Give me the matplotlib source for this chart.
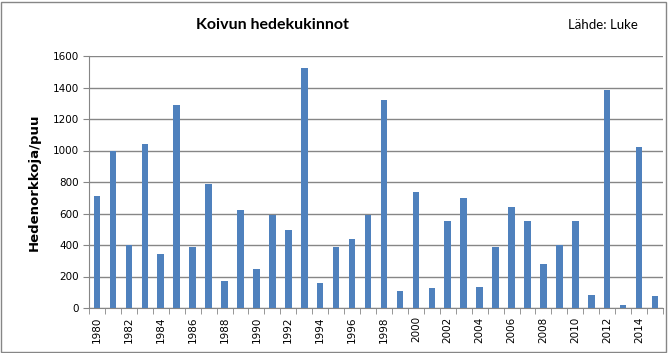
import matplotlib.pyplot as plt
import numpy as np
from matplotlib.patches import Rectangle

# Koivun hedekukinnot (birch male catkins), per tree
years = list(range(1980, 2016))
catkins = [710, 1000, 400, 1040, 340, 1290, 390, 790, 170, 620,
           245, 590, 495, 1525, 160, 385, 440, 590, 1320, 105,
           735, 130, 555, 700, 135, 385, 640, 555, 280, 400,
           550, 80, 1385, 20, 1020, 75]
yticks = [0, 200, 400, 600, 800, 1000, 1200, 1400, 1600]

bar_color = '#4F81BD'
grid_color = '#868686'

fig = plt.figure(figsize=(6.68, 3.53), dpi=100)
ax = fig.add_axes([89 / 668, 1 - 308 / 353, 574 / 668, 252 / 353])

x = np.arange(len(years))
ax.bar(x, catkins, width=0.41, color=bar_color, zorder=3)

ax.set_xlim(-0.5, len(years) - 0.5)
ax.set_ylim(0, 1600)
ax.set_yticks(yticks)
ax.set_yticklabels([str(v) for v in yticks], fontsize=7.5, family='DejaVu Sans')
ax.yaxis.grid(True, color=grid_color, linewidth=1, zorder=0)

# labels every other year, tick marks on category boundaries
ax.set_xticks(x[::2])
ax.set_xticklabels([str(y) for y in years[::2]], rotation=90, fontsize=7.5,
                   family='DejaVu Sans')
ax.tick_params(axis='x', which='major', length=0, pad=6)
ax.set_xticks(np.arange(-0.5, len(years)), minor=True)
ax.tick_params(axis='x', which='minor', length=4, color=grid_color, direction='out')
ax.tick_params(axis='y', length=4, color=grid_color, direction='out', pad=3)

for side in ['top', 'right']:
    ax.spines[side].set_visible(False)
for side in ['left', 'bottom']:
    ax.spines[side].set_color(grid_color)

ax.set_ylabel('Hedenorkkoja/puu', fontsize=9.5, fontweight='bold',
              family='DejaVu Sans', labelpad=9)

fig.text(272 / 668, 1 - 25 / 353, 'Koivun hedekukinnot', ha='center', va='center',
         fontsize=11.5, fontweight='bold', family='Lato')
fig.text(638 / 668, 1 - 25 / 353, 'Lähde: Luke', ha='right', va='center',
         fontsize=9.5, family='Lato')

# outer chart border
fig.patches.append(Rectangle((1 / 668, 1 / 353), 665 / 668, 350 / 353,
                             transform=fig.transFigure, fill=False,
                             edgecolor=grid_color, linewidth=1))

fig.savefig('out.png', dpi=100)
